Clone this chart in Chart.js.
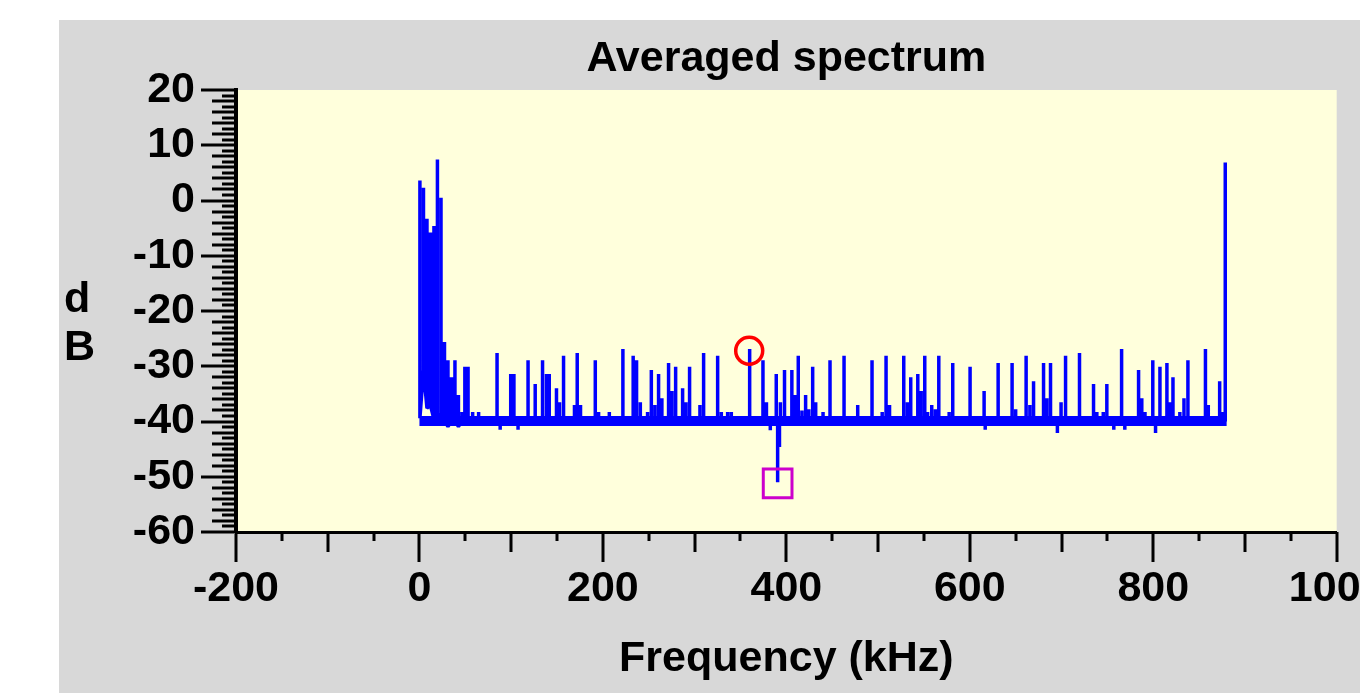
<!DOCTYPE html>
<html>
<head>
<meta charset="utf-8">
<title>Averaged spectrum</title>
<script src="https://cdn.jsdelivr.net/npm/chart.js@4.4.1/dist/chart.umd.min.js"></script>
<style>
  html, body { margin: 0; padding: 0; background: #fff; }
  #panel { position: absolute; left: 59px; top: 20px; width: 1301px; height: 673px; background: #d8d8d8; overflow: hidden; }
  #chart { display: block; }
  #ylab {
    position: absolute; left: 5px; top: 253px;
    font: bold 43px "Liberation Sans", Arial, sans-serif; line-height: 48px; color: #000;
  }
</style>
</head>
<body>
<div id="panel">
  <canvas id="chart" width="1301" height="673"></canvas>
  <div id="ylab">d<br>B</div>
</div>
<script>
// dense low-frequency bins (kHz): top and bottom of each bin's trace
const lowFreq = [0.5, 4.4, 8.2, 12.0, 15.8, 19.6, 23.5, 27.3, 31.1, 34.9, 38.7, 42.5, 46.4];
const lowTop = [3.6, 2.3, -3.3, -5.8, -4.6, 7.4, 0.5, -25.6, -28.9, -32.0, -28.9, -35.2, -38.3];
const lowBottom = [-39.4, -30.7, -37.6, -37.1, -39.6, -38.5, -39.6, -39.9, -40.9, -39.9, -39.9, -40.9, -39.9];

// isolated lines above (and a few dips below) the noise floor
const spikeFreq = [49.5, 53.0, 58.0, 64.5, 84.6, 88.0, 99.5, 103.0, 107.5, 118.4, 126.2, 134.2, 138.5, 141.5,
  149.4, 152.7, 157.1, 169.0, 172.0, 175.6, 191.7, 195.3, 207.0, 221.8, 233.0, 236.7, 240.8, 248.7,
  252.8, 256.7, 260.7, 264.3, 271.6, 275.3, 279.3, 286.9, 290.5, 294.5, 305.8, 309.8, 325.1, 329.1,
  336.0, 340.0, 360.0, 374.5, 378.3, 382.5, 389.0, 390.5, 392.5, 393.5, 398.0, 406.0, 409.5, 413.0,
  417.0, 421.0, 424.5, 428.7, 432.0, 440.0, 447.6, 462.9, 477.8, 493.4, 504.5, 508.7, 512.5, 528.0,
  532.0, 535.6, 543.3, 547.0, 550.9, 554.0, 558.5, 562.5, 566.2, 577.5, 581.4, 600.3, 615.6, 616.8,
  630.9, 646.1, 650.0, 661.4, 665.5, 669.5, 680.4, 684.0, 688.0, 695.5, 699.5, 704.4, 719.6, 734.9,
  738.5, 745.5, 749.4, 757.0, 765.5, 769.0, 784.0, 787.5, 791.0, 799.5, 802.5, 807.3, 814.9, 818.0,
  821.5, 829.0, 833.5, 837.8, 856.9, 860.0, 872.4, 875.5, 878.5];
const spikeDb = [-30.1, -30.1, -38.3, -38.3, -27.6, -41.5, -31.4, -31.4, -41.5, -28.9, -33.2, -28.9, -31.4, -31.4,
  -34.0, -36.5, -28.1, -37.0, -27.6, -37.0, -28.9, -38.3, -38.3, -26.9, -28.1, -28.9, -36.5, -38.3,
  -30.7, -37.0, -31.4, -35.8, -29.4, -34.5, -30.1, -34.0, -36.5, -30.1, -37.0, -27.6, -28.1, -38.3,
  -38.3, -38.3, -26.9, -28.9, -36.5, -41.6, -31.4, -51.0, -44.6, -36.5, -30.7, -30.7, -35.2, -28.1,
  -38.0, -35.2, -37.8, -30.1, -36.5, -38.3, -28.9, -28.1, -37.0, -28.9, -38.3, -28.1, -37.0, -28.1,
  -36.5, -32.0, -31.4, -34.5, -28.1, -38.3, -37.0, -37.8, -28.1, -38.3, -29.4, -30.1, -34.5, -41.5,
  -29.4, -29.4, -37.8, -28.1, -37.0, -32.7, -29.4, -35.8, -29.4, -42.1, -36.5, -28.1, -27.6, -33.2,
  -38.3, -38.3, -33.2, -41.5, -26.9, -41.5, -30.7, -35.8, -38.3, -28.9, -42.1, -30.1, -29.4, -36.5,
  -32.0, -38.3, -35.8, -28.9, -26.9, -37.0, -32.7, -38.3, 6.9];

// noise floor band
const floorFreq = [0, 880];
const floorDb = -39.9;

// markers
const circleMark = { x: 359.5, y: -27.2 };
const squareMark = { x: 390.5, y: -51.2 };

const FONT = '"Liberation Sans", Arial, sans-serif';

const spectrum = [];
lowFreq.forEach((f, i) => {
  spectrum.push({ x: f, y: lowBottom[i] }, { x: f, y: lowTop[i] }, { x: f, y: lowBottom[i] });
});
spikeFreq.forEach((f, i) => {
  spectrum.push({ x: f, y: floorDb }, { x: f, y: spikeDb[i] }, { x: f, y: floorDb });
});

const plotBg = {
  id: "plotBg",
  beforeDraw(chart) {
    const { ctx, chartArea: a } = chart;
    ctx.save();
    ctx.fillStyle = "#ffffdc";
    ctx.fillRect(a.left, a.top, a.right - a.left, a.bottom - a.top);
    ctx.restore();
  }
};

const axisTicks = {
  id: "axisTicks",
  afterDraw(chart) {
    const { ctx, chartArea: a, scales: { x, y } } = chart;
    ctx.save();
    ctx.fillStyle = "#000";
    for (let v = -200; v <= 1000; v += 50) {
      const len = v % 200 === 0 ? 30 : (v % 100 === 0 ? 20 : 9);
      const px = Math.round(x.getPixelForValue(v));
      ctx.fillRect(px - 1.5, a.bottom, 3, len);
    }
    for (let v = -60; v <= 20; v += 1) {
      const len = v % 10 === 0 ? 33 : (v % 2 === 0 ? 22 : 12);
      const py = Math.round(y.getPixelForValue(v));
      ctx.fillRect(a.left - 2 - len, py - 1.5, len, 3);
    }
    ctx.restore();
  }
};

function fixWidth(w) {
  return s => { s.width = w; s.paddingTop = 0; s.paddingBottom = 0; s.paddingLeft = 0; s.paddingRight = 0; };
}
function fixHeight(h) {
  return s => { s.height = h; s.paddingTop = 0; s.paddingBottom = 0; s.paddingLeft = 0; s.paddingRight = 0; };
}

new Chart(document.getElementById("chart"), {
  type: "line",
  data: {
    datasets: [
      {
        data: [circleMark], showLine: false, pointStyle: "circle", pointRadius: 13.5,
        pointBorderWidth: 3.5, pointBorderColor: "#ff0000", pointBackgroundColor: "rgba(0,0,0,0)"
      },
      {
        data: [squareMark], showLine: false, pointStyle: "rect", pointRadius: 20.3,
        pointBorderWidth: 3, pointBorderColor: "#cc00cc", pointBackgroundColor: "rgba(0,0,0,0)"
      },
      {
        data: spectrum, borderColor: "#0000ff", borderWidth: 3.5, pointRadius: 0,
        tension: 0, borderJoinStyle: "bevel", borderCapStyle: "butt"
      },
      {
        data: floorFreq.map(f => ({ x: f, y: floorDb })), borderColor: "#0000ff", borderWidth: 10,
        pointRadius: 0, borderCapStyle: "butt"
      }
    ]
  },
  options: {
    responsive: false,
    animation: false,
    events: [],
    layout: { padding: { left: 0, right: 23, top: 0, bottom: 0 } },
    plugins: {
      legend: { display: false },
      tooltip: { enabled: false },
      title: {
        display: true, text: "Averaged spectrum", color: "#000", fullSize: false,
        font: { family: FONT, size: 43, weight: "bold", lineHeight: 1 },
        padding: { top: 18, bottom: 9 }
      }
    },
    scales: {
      x: {
        type: "linear", min: -200, max: 1000,
        ticks: { stepSize: 200, color: "#000", padding: 36, maxRotation: 0,
          callback: v => String(v),
          font: { family: FONT, size: 43, weight: "bold", lineHeight: 1 } },
        grid: { display: false, drawTicks: false },
        border: { display: true, color: "#000", width: 3 },
        title: { display: true, text: "Frequency (kHz)", color: "#000",
          font: { family: FONT, size: 43, weight: "bold", lineHeight: 1 },
          padding: { top: 0, bottom: 12.5 } },
        afterFit: fixHeight(161)
      },
      y: {
        min: -60, max: 20,
        ticks: { stepSize: 10, color: "#000", padding: 41,
          callback: v => String(v),
          font: { family: FONT, size: 43, weight: "bold", lineHeight: 1 } },
        grid: { display: false, drawTicks: false },
        border: { display: true, color: "#000", width: 4 },
        afterFit: fixWidth(177)
      }
    }
  },
  plugins: [plotBg, axisTicks]
});
</script>
</body>
</html>
